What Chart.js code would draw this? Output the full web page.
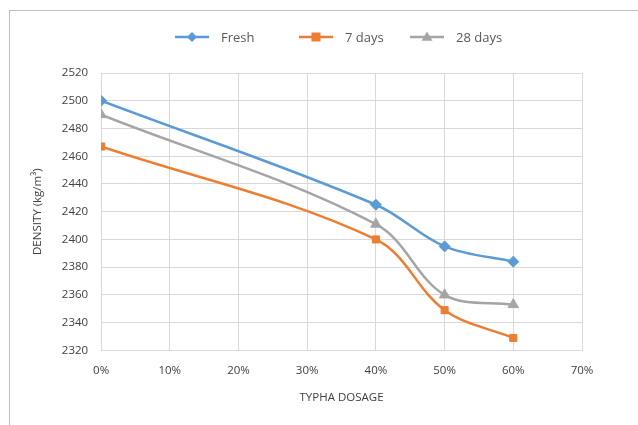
<!DOCTYPE html>
<html>
<head>
<meta charset="utf-8">
<script src="https://cdn.jsdelivr.net/npm/chart.js@4.4.1/dist/chart.umd.min.js"></script>
<style>
  html, body { margin: 0; padding: 0; background: #fff; }
  #wrap { position: relative; width: 638px; height: 425px; overflow: hidden; }
  #frame { position: absolute; left: 9px; top: 10px; width: 640px; height: 430px; border: 1px solid #bfbfbf; box-sizing: border-box; pointer-events: none; }
  canvas { position: absolute; left: 0; top: 0; }
</style>
</head>
<body>
<div id="wrap">
  <canvas id="c" width="638" height="425"></canvas>
  <div id="frame"></div>
</div>
<script>
// Typha dosage (%) and measured densities (kg/m³)
const dosage = [0, 40, 50, 60];
const fresh = [2500, 2425, 2395, 2384];
const days7 = [2467, 2400, 2349, 2329];
const days28 = [2490, 2411, 2360, 2353];
const seriesNames = ['Fresh', '7 days', '28 days'];
const yTicks = [2320, 2340, 2360, 2380, 2400, 2420, 2440, 2460, 2480, 2500, 2520];
const xTicks = [0, 10, 20, 30, 40, 50, 60, 70];

const colors = ['#5b9bd5', '#ed7d31', '#a5a5a5'];
const shapes = ['rectRot', 'rect', 'triangle'];
const radii = [5.5, 5, 6];
const FONT = '"Open Sans", "Liberation Sans", sans-serif';
const TEXT = '#404040';

function toPoints(vals) { return dosage.map((d, i) => ({ x: d, y: vals[i] })); }

// Legend drawn as line + marker, in the style of spreadsheet charts
const lineLegend = {
  id: 'lineLegend',
  afterDraw(chart) {
    const ctx = chart.ctx;
    const starts = [175, 299, 410];
    const y = 37;
    ctx.save();
    ctx.font = '13px ' + FONT;
    ctx.textBaseline = 'middle';
    chart.data.datasets.forEach((ds, i) => {
      const x0 = starts[i];
      const cx = x0 + 17;
      ctx.strokeStyle = ds.borderColor;
      ctx.fillStyle = ds.borderColor;
      ctx.lineWidth = 2.5;
      ctx.beginPath();
      ctx.moveTo(x0, y);
      ctx.lineTo(x0 + 34, y);
      ctx.stroke();
      ctx.beginPath();
      if (ds.pointStyle === 'rect') {
        ctx.fillRect(cx - 4.5, y - 4.5, 9, 9);
      } else if (ds.pointStyle === 'rectRot') {
        const r = 5;
        ctx.moveTo(cx, y - r); ctx.lineTo(cx + r, y); ctx.lineTo(cx, y + r); ctx.lineTo(cx - r, y); ctx.closePath(); ctx.fill();
      } else {
        const r = 5.5;
        ctx.moveTo(cx, y - r); ctx.lineTo(cx + r, y + r * 0.7); ctx.lineTo(cx - r, y + r * 0.7); ctx.closePath(); ctx.fill();
      }
      ctx.fillStyle = '#595959';
      ctx.fillText(ds.label, x0 + 46, y + 1);
    });
    ctx.restore();
  }
};

const datasets = [fresh, days7, days28].map((vals, i) => ({
  label: seriesNames[i],
  data: toPoints(vals),
  borderColor: colors[i],
  backgroundColor: colors[i],
  borderWidth: 2.5,
  pointStyle: shapes[i],
  pointRadius: radii[i],
  pointBorderWidth: 1,
  tension: 0.35,
  fill: false
}));

Chart.defaults.font.family = FONT;
Chart.defaults.color = TEXT;

new Chart(document.getElementById('c'), {
  type: 'line',
  data: { datasets },
  options: {
    responsive: false,
    animation: false,
    layout: { padding: { left: 31, right: 56, top: 73, bottom: 20 } },
    plugins: { legend: { display: false }, tooltip: { enabled: false } },
    scales: {
      x: {
        type: 'linear',
        min: 0, max: 70,
        afterBuildTicks(axis) { axis.ticks = xTicks.map(v => ({ value: v })); },
        ticks: { callback: v => v + '%', font: { size: 11.5 }, padding: 13, maxRotation: 0 },
        grid: { color: '#d9d9d9', lineWidth: 1, drawTicks: false },
        border: { color: '#d9d9d9' },
        title: { display: true, text: 'TYPHA DOSAGE', font: { size: 11.5 }, padding: { top: 1, bottom: 0 } }
      },
      y: {
        min: 2320, max: 2520,
        afterBuildTicks(axis) { axis.ticks = yTicks.map(v => ({ value: v })); },
        ticks: { callback: v => String(v), font: { size: 11.5 }, padding: 13 },
        grid: { color: '#d9d9d9', lineWidth: 1, drawTicks: false },
        border: { color: '#d9d9d9' },
        title: { display: true, text: 'DENSITY (kg/m³)', font: { size: 11.5 }, padding: { top: 0, bottom: 4 } }
      }
    }
  },
  plugins: [lineLegend]
});
</script>
</body>
</html>
